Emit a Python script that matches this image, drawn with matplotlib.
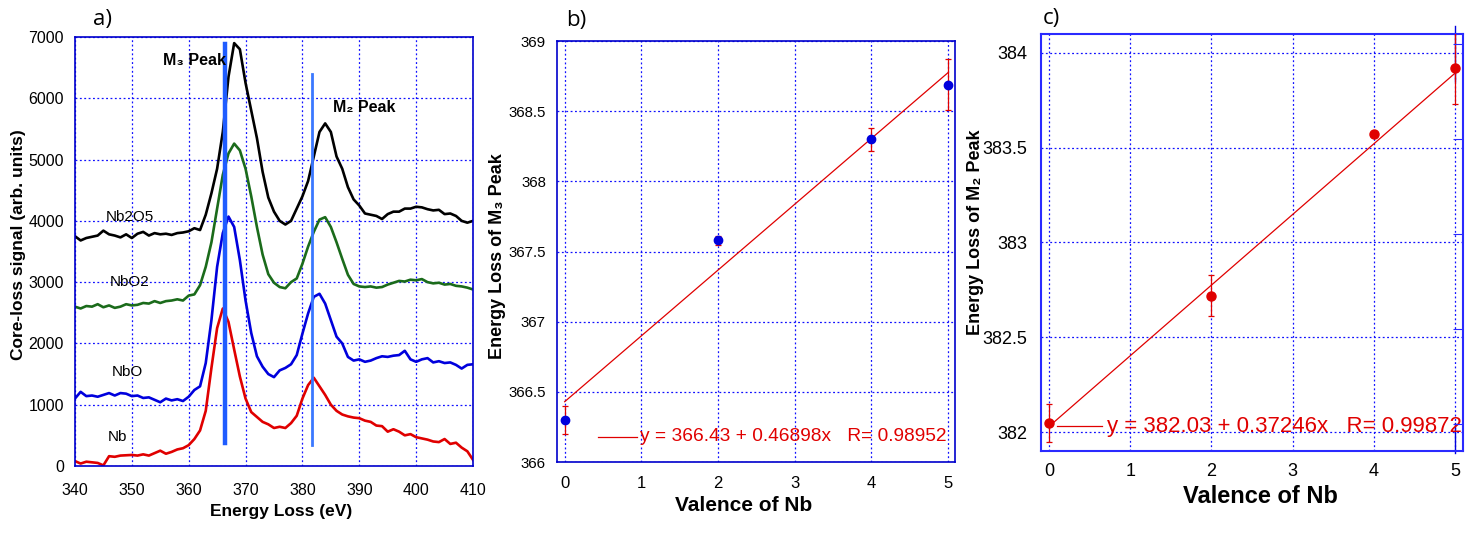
import numpy as np
import matplotlib
matplotlib.use('Agg')
from matplotlib import pyplot as plt
from matplotlib.ticker import FormatStrFormatter

plt.rcParams['font.family'] = ['Liberation Sans', 'DejaVu Sans']

# ---------------- panel a : core-loss spectra (1 eV steps) ----------------
energy = np.arange(340, 411, 1)

nb2o5 = [3750, 3680, 3720, 3740, 3760, 3840, 3780, 3760, 3730, 3780,
         3720, 3790, 3820, 3760, 3800, 3780, 3790, 3770, 3800, 3810,
         3830, 3880, 3850, 4100, 4450, 4850, 5450, 6350, 6900, 6800,
         6250, 5800, 5350, 4800, 4380, 4150, 4000, 3940, 4000, 4200,
         4400, 4650, 5050, 5450, 5590, 5450, 5050, 4850, 4550, 4350,
         4250, 4120, 4100, 4080, 4030, 4110, 4150, 4150, 4200, 4200,
         4230, 4220, 4190, 4170, 4180, 4110, 4120, 4080, 4000, 3970,
         4000]
nbo2 = [2600, 2570, 2610, 2600, 2640, 2590, 2620, 2580, 2600, 2640,
        2620, 2630, 2660, 2650, 2690, 2660, 2690, 2700, 2720, 2700,
        2780, 2800, 2950, 3250, 3650, 4200, 4750, 5100, 5260, 5150,
        4850, 4400, 3900, 3450, 3130, 2990, 2920, 2900, 3000, 3060,
        3300, 3580, 3820, 4020, 4060, 3900, 3650, 3380, 3120, 2970,
        2930, 2920, 2930, 2910, 2920, 2960, 2990, 3020, 3010, 3040,
        3030, 3050, 3000, 2980, 2990, 2960, 2970, 2940, 2930, 2910,
        2880]
nbo = [1100, 1210, 1140, 1150, 1130, 1160, 1190, 1150, 1190, 1180,
       1140, 1150, 1110, 1120, 1080, 1040, 1100, 1070, 1090, 1060,
       1130, 1240, 1300, 1680, 2380, 3250, 3800, 4070, 3900, 3360,
       2700, 2170, 1790, 1620, 1500, 1450, 1560, 1600, 1660, 1810,
       2160, 2490, 2760, 2810, 2650, 2380, 2110, 2000, 1780, 1720,
       1740, 1700, 1720, 1760, 1790, 1780, 1800, 1810, 1880, 1740,
       1700, 1740, 1760, 1690, 1710, 1680, 1690, 1650, 1590, 1650,
       1660]
nb = [80, 40, 70, 60, 50, 10, 160, 150, 170, 175,
      180, 170, 190, 170, 210, 250, 200, 230, 270, 290,
      340, 440, 580, 900, 1600, 2250, 2570, 2350, 1900, 1460,
      1100, 880, 800, 720, 680, 620, 640, 620, 700, 820,
      1100, 1320, 1440, 1300, 1160, 1000, 900, 840, 810, 790,
      780, 740, 720, 660, 650, 560, 600, 560, 500, 520,
      470, 450, 430, 400, 390, 440, 360, 380, 300, 240,
      100]

spectra = [nb2o5, nbo2, nbo, nb]
names = ['Nb2O5', 'NbO2', 'NbO', 'Nb']
colors = ['black', '#1b6b1b', '#0000dd', '#e00000']
name_x = [345.5, 346.1, 346.5, 345.7]
name_y = [4065, 3005, 1538, 478]

m3_pos, m3_span = 366.3, (380, 6890)
m2_pos, m2_span = 381.7, (340, 6390)

# ---------------- panels b, c : peak position vs valence ----------------
valence = [0, 2, 4, 5]
m3_peak = [366.30, 367.58, 368.30, 368.69]
m3_err = [0.10, 0.03, 0.08, 0.18]
m3_fit = (366.43, 0.46898, 0.98952)

m2_peak = [382.05, 382.72, 383.57, 383.92]
m2_err = [0.10, 0.11, 0.0, 0.19]
m2_fit = (382.03, 0.37246, 0.99872)

GRID = '#1010ff'
SPINE = '#0000cc'

fig = plt.figure(figsize=(14.81, 5.36), dpi=100)

def style(ax, spine_col=SPINE, lw=1.2):
    for s in ax.spines.values():
        s.set_color(spine_col)
        s.set_linewidth(lw)
    ax.grid(True, color=GRID, linestyle=(0, (1.5, 2)), linewidth=0.9)
    ax.set_axisbelow(True)

# ---- a)
ax1 = fig.add_axes([0.0506, 0.1306, 0.2688, 0.8004])
for y, c in zip(spectra, colors):
    ax1.plot(energy, y, color=c, lw=1.9)
ax1.plot([m3_pos, m3_pos], m3_span, color='#1f5cff', lw=3.2)
ax1.plot([m2_pos, m2_pos], m2_span, color='#3a78ff', lw=2.0)
for n, x, y in zip(names, name_x, name_y):
    ax1.text(x, y, n, fontsize=11, va='center', ha='left')
ax1.text(355.5, 6620, 'M\u2083 Peak', fontsize=11.5, fontweight='bold', va='center')
ax1.text(385.4, 5848, 'M\u2082 Peak', fontsize=11.5, fontweight='bold', va='center')
ax1.set_xlim(340, 410)
ax1.set_ylim(0, 7000)
ax1.set_xticks(range(340, 411, 10))
ax1.set_yticks(range(0, 7001, 1000))
ax1.tick_params(length=0, labelsize=11.5)
ax1.tick_params(axis='x', pad=12)
ax1.tick_params(axis='y', pad=8)
style(ax1)
ax1.text(-0.143, 0.515, 'Core-loss signal (arb. units)', transform=ax1.transAxes,
         rotation=90, ha='center', va='center', fontsize=12.5, fontweight='bold')
ax1.text(0.518, -0.107, 'Energy Loss (eV)', transform=ax1.transAxes,
         ha='center', va='center', fontsize=12.5, fontweight='bold')

# ---- b)
ax2 = fig.add_axes([0.3761, 0.138, 0.2687, 0.7854])
xf = np.array([0, 5])
ax2.plot(xf, m3_fit[0] + m3_fit[1] * xf, color='#e00000', lw=0.9)
ax2.errorbar(valence, m3_peak, yerr=m3_err, fmt='o', color='#0000dd', ms=6,
             ecolor='#e00000', elinewidth=0.9, capsize=2.5, capthick=0.9, zorder=3)
ax2.plot([0.43, 0.94], [366.18, 366.18], color='#e00000', lw=0.9)
ax2.text(0.98, 366.18, 'y = %.2f + %.5fx   R= %.5f' % m3_fit, color='#e00000',
         fontsize=13.8, va='center', ha='left')
ax2.set_xlim(-0.1, 5.09)
ax2.set_ylim(366, 369)
ax2.set_xticks(range(0, 6))
ax2.set_yticks(np.arange(366, 369.01, 0.5))
ax2.yaxis.set_major_formatter(FormatStrFormatter('%g'))
ax2.tick_params(length=0, labelsize=12)
ax2.tick_params(axis='y', labelsize=10.8)
ax2.tick_params(axis='x', pad=10)
ax2.tick_params(axis='y', pad=8)
style(ax2)
ax2.text(-0.15, 0.49, 'Energy Loss of M\u2083 Peak', transform=ax2.transAxes,
         rotation=90, ha='center', va='center', fontsize=13, fontweight='bold')
ax2.text(0.468, -0.103, 'Valence of Nb', transform=ax2.transAxes,
         ha='center', va='center', fontsize=15, fontweight='bold')

# ---- c)
ax3 = fig.add_axes([0.7029, 0.1586, 0.2849, 0.778])
ax3.plot(xf, m2_fit[0] + m2_fit[1] * xf, color='#e00000', lw=0.9)
ax3.errorbar(valence, m2_peak, yerr=m2_err, fmt='o', color='#e00000', ms=6.5,
             ecolor='#e00000', elinewidth=0.9, capsize=2.5, capthick=0.9, zorder=3)
ax3.plot([0.1, 0.65], [382.03, 382.03], color='#e00000', lw=0.9)
ax3.text(0.71, 382.03, 'y = %.2f + %.5fx   R= %.5f' % m2_fit, color='#e00000',
         fontsize=16, va='center', ha='left')
ax3.set_xlim(-0.1, 5.1)
ax3.set_ylim(381.9, 384.1)
ax3.set_xticks(range(0, 6))
ax3.set_yticks(np.arange(382, 384.01, 0.5))
ax3.yaxis.set_major_formatter(FormatStrFormatter('%g'))
ax3.tick_params(length=0, labelsize=13)
ax3.tick_params(axis='x', pad=9)
ax3.tick_params(axis='y', pad=10)
style(ax3, spine_col='#2a2aff', lw=1.5)
# second (shifted) right axis of the original figure
ax3b = ax3.twinx()
ax3b.set_ylim(381.9 - 0.045, 384.1 - 0.045)
ax3b.set_yticks(np.arange(382, 384.01, 0.5))
ax3b.tick_params(axis='y', direction='in', length=7, color='#2a2aff', labelright=False)
for s in ax3b.spines.values():
    s.set_visible(False)
ax3.plot([5, 5], [383.85, 384.14], color='#0000dd', lw=1.0, clip_on=False)
ax3.plot([5, 5], [381.89, 382.05], color='#0000dd', lw=1.0, clip_on=False)
ax3.text(-0.156, 0.525, 'Energy Loss of M\u2082 Peak', transform=ax3.transAxes,
         rotation=90, ha='center', va='center', fontsize=13, fontweight='bold')
ax3.text(0.519, -0.11, 'Valence of Nb', transform=ax3.transAxes,
         ha='center', va='center', fontsize=17, fontweight='bold')

# panel letters
for x, y, t in [(0.069, 0.963, 'a)'), (0.389, 0.961, 'b)'), (0.710, 0.966, 'c)')]:
    fig.text(x, y, t, fontsize=16, ha='center', va='center', family=['Open Sans', 'DejaVu Sans'])

fig.savefig('out.png', dpi=100)
